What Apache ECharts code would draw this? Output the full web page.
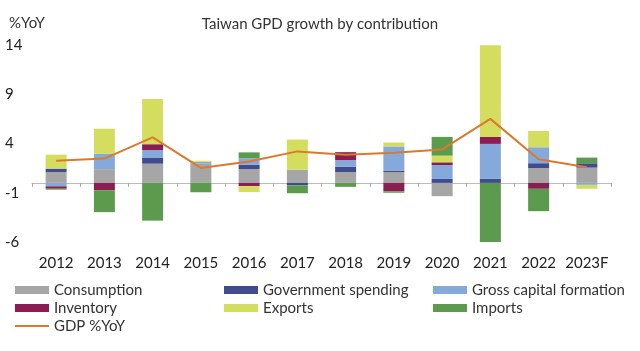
<!DOCTYPE html>
<html>
<head>
<meta charset="utf-8">
<script src="https://cdn.jsdelivr.net/npm/echarts@6/dist/echarts.min.js"></script>
<style>
  html, body { margin: 0; padding: 0; background: #fff; }
  #chart { width: 640px; height: 351px; }
</style>
</head>
<body>
<div id="chart"></div>
<script>
const years = ['2012', '2013', '2014', '2015', '2016', '2017', '2018', '2019', '2020', '2021', '2022', '2023F'];
const yTicks = [-6, -1, 4, 9, 14];

const consumption = [1.1, 1.4, 1.95, 2.0, 1.4, 1.35, 1.1, 1.1, -1.35, 0, 1.5, 1.55];
const govSpending = [0.35, 0, 0.58, 0, 0.43, -0.25, 0.55, 0.15, 0.4, 0.44, 0.5, 0.44];
const capitalFormation = [-0.35, 1.55, 0.8, 0.15, 0.67, 0, 0.67, 2.45, 1.42, 3.52, 1.62, -0.2];
const inventory = [-0.24, -0.74, 0.6, 0, -0.33, 0, 0.8, -0.85, 0.27, 0.71, -0.6, 0];
const exportsData = [1.42, 2.55, 4.6, 0.1, -0.6, 3.05, 0, 0.4, 0.68, 9.3, 1.65, -0.4];
const importsData = [-0.1, -2.23, -3.83, -0.95, 0.6, -0.8, -0.4, -0.15, 1.9, -6.09, -2.27, 0.58];
const gdp = [2.26, 2.47, 4.63, 1.52, 2.17, 3.2, 2.87, 3.05, 3.4, 6.5, 2.4, 1.6];

const font = 'Lato';
const lineColor = '#db7a2c';
const chart = echarts.init(document.getElementById('chart'));

function bar(name, data, color) {
  return {
    name: name,
    type: 'bar',
    stack: 'total',
    data: data,
    barWidth: 21,
    itemStyle: { color: color },
    emphasis: { disabled: true }
  };
}

const legendText = { fontSize: 15, color: '#333', width: 170, lineHeight: 18 };

chart.setOption({
  animation: false,
  textStyle: { fontFamily: font },
  title: [
    {
      text: 'Taiwan GPD growth by contribution',
      left: 'center',
      top: 12,
      textStyle: { fontSize: 15, fontWeight: 'normal', color: '#333', fontFamily: font }
    },
    {
      text: '%YoY',
      left: 4,
      top: 11,
      textStyle: { fontSize: 15, fontWeight: 'normal', color: '#333', fontFamily: font }
    }
  ],
  grid: { left: 32, right: 29, top: 45, bottom: 109 },
  legend: [
    {
      left: 15,
      top: 281,
      width: 630,
      padding: 0,
      itemWidth: 34,
      itemHeight: 8,
      itemGap: 0,
      icon: 'rect',
      textStyle: legendText,
      data: ['Consumption', 'Government spending', 'Gross capital formation', 'Inventory', 'Exports', 'Imports']
    },
    {
      left: 15,
      top: 317,
      padding: 0,
      itemWidth: 34,
      itemHeight: 2,
      icon: 'rect',
      textStyle: legendText,
      data: ['GDP %YoY']
    }
  ],
  xAxis: [
    {
      type: 'category',
      data: years,
      axisLine: { onZero: true, lineStyle: { color: '#bbb' } },
      axisTick: { show: true, length: 4, lineStyle: { color: '#aaa' } },
      axisLabel: { show: false }
    },
    {
      type: 'category',
      data: years,
      position: 'bottom',
      axisLine: { show: false },
      axisTick: { show: false },
      axisLabel: { interval: 0, margin: 14, fontSize: 15, color: '#222' }
    }
  ],
  yAxis: {
    type: 'value',
    min: yTicks[0],
    max: yTicks[yTicks.length - 1],
    interval: 5,
    axisLine: { show: false },
    axisTick: { show: false },
    splitLine: { show: false },
    axisLabel: { align: 'left', margin: 27, fontSize: 15, color: '#222' }
  },
  series: [
    bar('Consumption', consumption, '#a6a6a6'),
    bar('Government spending', govSpending, '#414c8e'),
    bar('Gross capital formation', capitalFormation, '#86a9dc'),
    bar('Inventory', inventory, '#8c1d52'),
    bar('Exports', exportsData, '#d5dd5e'),
    bar('Imports', importsData, '#5c9b4e'),
    {
      name: 'GDP %YoY',
      type: 'line',
      data: gdp,
      symbol: 'none',
      z: 5,
      lineStyle: { color: lineColor, width: 2 },
      itemStyle: { color: lineColor }
    }
  ]
});
</script>
</body>
</html>
